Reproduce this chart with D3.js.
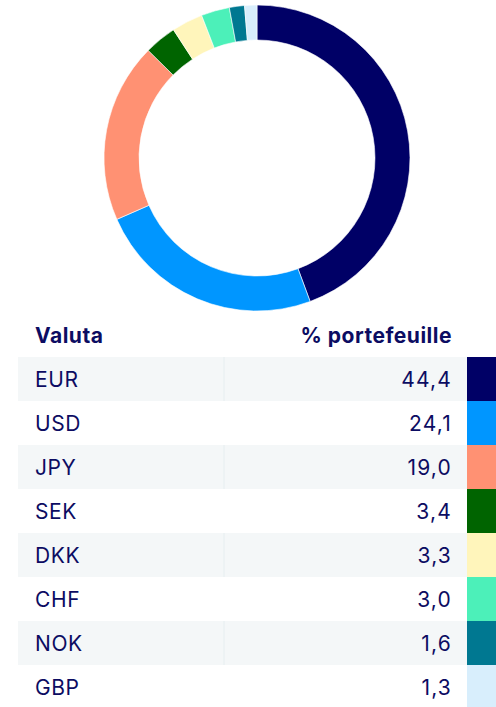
<!DOCTYPE html>
<html>
<head>
<meta charset="utf-8">
<script src="https://cdn.jsdelivr.net/npm/d3@7"></script>
<style>
  html, body { margin: 0; padding: 0; background: #fff; }
  svg { display: block; font-family: Inter, Roboto, "Noto Sans", sans-serif; }
</style>
</head>
<body>
<svg id="chart" width="496" height="707"></svg>
<script>
// Currency allocation of the portfolio (percent)
const currencies = ["EUR", "USD", "JPY", "SEK", "DKK", "CHF", "NOK", "GBP"];
const shares = [44.4, 24.1, 19.0, 3.4, 3.3, 3.0, 1.6, 1.3];
const colors = ["#000066", "#0096ff", "#ff9173", "#006400", "#fff5bb", "#4cf0b9", "#007891", "#d8eefc"];
const headers = ["Valuta", "% portefeuille"];

const data = currencies.map((c, i) => ({ name: c, value: shares[i], color: colors[i] }));
const fmt = v => d3.format(".1f")(v).replace(".", ",");

const svg = d3.select("#chart");
const textColor = "#0c0c62";

// Donut
const cx = 257, cy = 158, outerR = 153, innerR = 118;
const pie = d3.pie().sort(null).value(d => d.value);
const arc = d3.arc().innerRadius(innerR).outerRadius(outerR);

svg.append("g")
  .attr("transform", `translate(${cx},${cy})`)
  .selectAll("path")
  .data(pie(data))
  .join("path")
  .attr("d", arc)
  .attr("fill", d => d.data.color)
  .attr("stroke", "#fff")
  .attr("stroke-width", 0.6);

// Table
const tableTop = 357, rowH = 44;
const left = 18, divider = 224, right = 467, swatchW = 29;

const y = d3.scaleBand()
  .domain(currencies)
  .range([tableTop, tableTop + rowH * currencies.length])
  .padding(0);

svg.append("text")
  .attr("x", 35).attr("y", 343)
  .attr("font-size", 21).attr("font-weight", 700)
  .attr("letter-spacing", 0.5)
  .attr("fill", textColor)
  .text(headers[0]);

svg.append("text")
  .attr("x", 452).attr("y", 343)
  .attr("text-anchor", "end")
  .attr("font-size", 21).attr("font-weight", 700)
  .attr("letter-spacing", 0.5)
  .attr("fill", textColor)
  .text(headers[1]);

const rows = svg.append("g")
  .selectAll("g")
  .data(data)
  .join("g")
  .attr("transform", d => `translate(0,${y(d.name)})`);

rows.filter((d, i) => i % 2 === 0)
  .append("rect")
  .attr("x", left).attr("width", right - left)
  .attr("height", y.bandwidth())
  .attr("fill", "#f4f7f8");

rows.filter((d, i) => i % 2 === 0)
  .append("line")
  .attr("x1", divider).attr("x2", divider)
  .attr("y1", 0).attr("y2", y.bandwidth())
  .attr("stroke", "#e6eef0").attr("stroke-width", 1);

rows.append("rect")
  .attr("x", right).attr("width", swatchW)
  .attr("height", y.bandwidth())
  .attr("fill", d => d.color);

rows.append("text")
  .attr("x", 35).attr("y", y.bandwidth() / 2)
  .attr("dy", "0.36em")
  .attr("font-size", 21)
  .attr("letter-spacing", 0.6)
  .attr("fill", textColor)
  .text(d => d.name);

rows.append("text")
  .attr("x", 452).attr("y", y.bandwidth() / 2)
  .attr("dy", "0.36em")
  .attr("text-anchor", "end")
  .attr("font-size", 21)
  .attr("letter-spacing", 1.2)
  .attr("fill", textColor)
  .text(d => fmt(d.value));
</script>
</body>
</html>
